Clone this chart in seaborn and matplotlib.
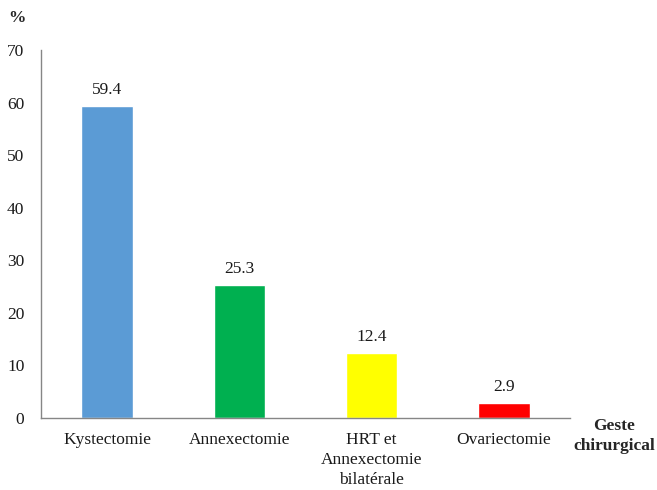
import matplotlib
matplotlib.use("Agg")
import matplotlib.pyplot as plt
import seaborn as sns
import pandas as pd

categories = ["Kystectomie", "Annexectomie", "HRT et\nAnnexectomie\nbilatérale", "Ovariectomie"]
values = [59.4, 25.3, 12.4, 2.9]
colors = ["#5B9BD5", "#00B050", "#FFFF00", "#FF0000"]
y_ticks = [0, 10, 20, 30, 40, 50, 60, 70]

sns.set_theme(style="white")
plt.rcParams["font.family"] = ["Liberation Serif", "DejaVu Serif"]

df = pd.DataFrame({"geste": categories, "pct": values})

fig = plt.figure(figsize=(6.57, 4.90), dpi=100)
ax = fig.add_axes([41 / 657, 1 - 418 / 490, (570 - 41) / 657, (418 - 50) / 490])

sns.barplot(data=df, x="geste", y="pct", hue="geste", palette=colors,
            width=0.39, legend=False, ax=ax, saturation=1)

for i, v in enumerate(values):
    ax.text(i, v + 1.5, f"{v:.1f}", ha="center", va="bottom", fontsize=12.5, color="#1a1a1a")

ax.set_ylim(0, 70)
ax.set_xlim(-0.5, 3.5)
ax.set_yticks(y_ticks)
ax.set_yticklabels([str(t) for t in y_ticks], fontsize=12.5, color="#1a1a1a")
ax.tick_params(axis="y", length=0, pad=12)
ax.tick_params(axis="x", length=0, pad=10, labelsize=12.5, labelcolor="#1a1a1a")
for lbl in ax.get_xticklabels():
    lbl.set_linespacing(1.35)
ax.set_xlabel("")
ax.set_ylabel("")

for side in ["top", "right"]:
    ax.spines[side].set_visible(False)
for side in ["left", "bottom"]:
    ax.spines[side].set_color("#868686")
    ax.spines[side].set_linewidth(1.0)

fig.text(8 / 657, 1 - 18 / 490, "%", fontsize=12.5, fontweight="bold", ha="left", va="center")
fig.text(655 / 657, 1 - 436 / 490, "Geste\nchirurgical", fontsize=12.5, fontweight="bold",
         ha="right", va="center", multialignment="center", linespacing=1.3)

fig.savefig("out.png", dpi=100)
